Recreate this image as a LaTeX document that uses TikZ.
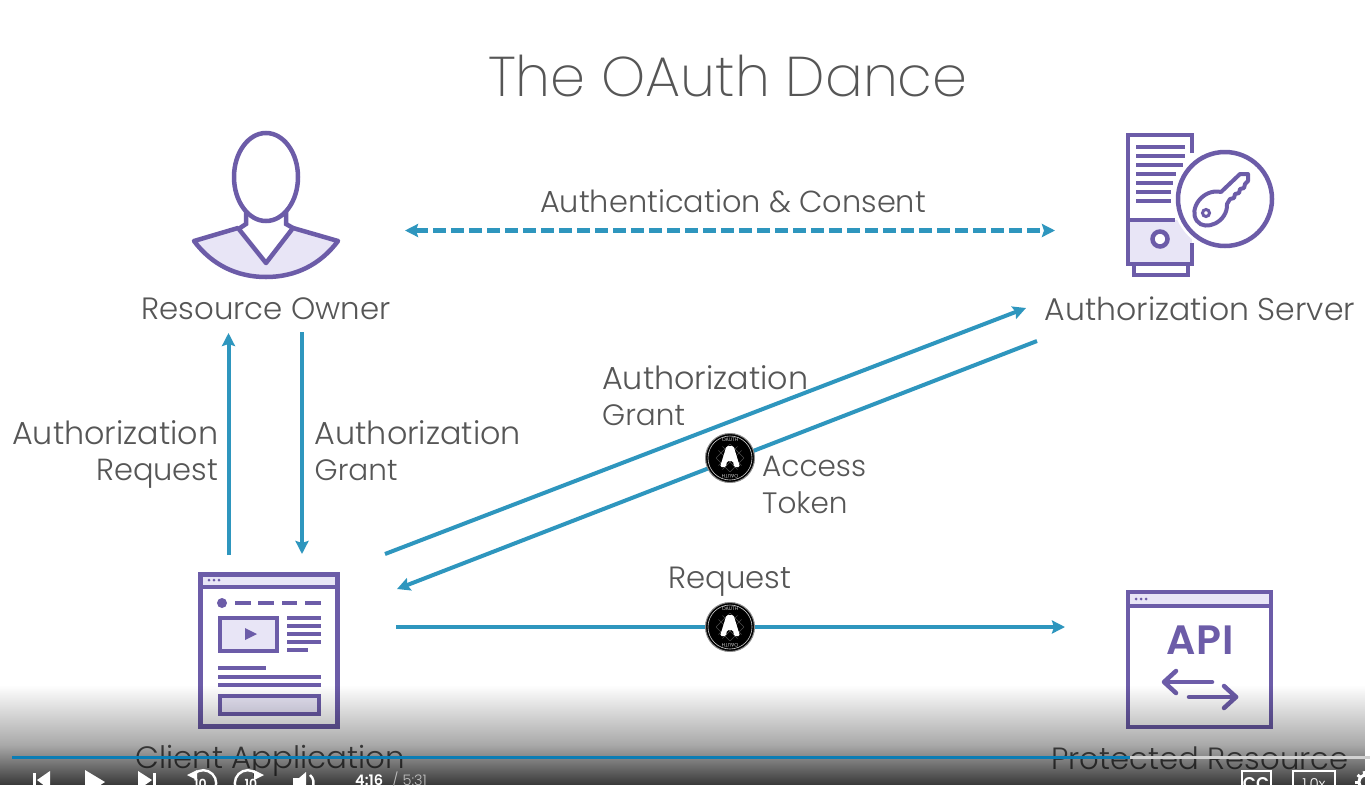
\documentclass[tikz,border=0pt]{standalone}
\usepackage{fontspec}
\setmainfont{Poppins}[UprightFont=* Light,BoldFont=* SemiBold]
\newfontfamily\titlefont{Poppins ExtraLight}
\usetikzlibrary{arrows.meta,fadings,calc}
\definecolor{txt}{HTML}{565656}
\definecolor{pur}{HTML}{6C5CA8}
\definecolor{lil}{HTML}{E8E5F6}
\definecolor{flow}{HTML}{2E96BE}
\definecolor{bar}{HTML}{0B7DB5}
\tikzfading[name=playerfadeA,top color=transparent!100,bottom color=transparent!66]
\tikzfading[name=playerfadeB,top color=transparent!66,bottom color=transparent!22]
\newcommand{\sz}[1]{\fontsize{#1}{36.5}\selectfont}
\tikzset{
 lbl/.style={text=txt,inner sep=0pt,font=\sz{29.5}},
 flowline/.style={draw=flow,line width=4pt,-{Stealth[length=13pt,width=13pt,inset=2pt]}},
 icon/.style={draw=pur,line width=4.5pt,line join=miter},
 iconthin/.style={draw=pur,line width=4pt},
 apiarrow/.style={draw=pur,line width=4.5pt,line cap=round,line join=round},
 ui/.style={white,line width=2.4pt},
 badge/.style={circle,fill=black,draw=black!45,line width=1pt,minimum size=49pt,inner sep=0pt},
 badgetext/.style={text=white,inner sep=0pt,font=\fontsize{5}{6}\selectfont},
}
\newcommand{\badgeicon}[1]{%
 \node[badge] (#1) at (#1c) {};
 \draw[white!80!black,line width=0.6pt] (#1c) circle (22pt);
 \begin{scope}
  \clip (#1c) circle (14pt);
  \foreach \dd in {-14,-4,4,14} {
   \draw[black!70,line width=0.5pt] ($(#1c)+(\dd-20,-20)$) -- ($(#1c)+(\dd+20,20)$);
   \draw[black!70,line width=0.5pt] ($(#1c)+(\dd+20,-20)$) -- ($(#1c)+(\dd-20,20)$);
  }
 \end{scope}
 \fill[white,rounded corners=1.5pt] ($(#1c)+(-10,9)$) -- ($(#1c)+(-3.5,-12)$) -- ($(#1c)+(3.5,-12)$) -- ($(#1c)+(10,9)$) -- ($(#1c)+(4,9)$) -- ($(#1c)+(3,3)$) -- ($(#1c)+(-3,3)$) -- ($(#1c)+(-4,9)$) -- cycle;
 \node[badgetext] at ($(#1c)+(0,-18)$) {OAUTH};
 \node[badgetext,rotate=180] at ($(#1c)+(0,18)$) {OAUTH};
}
\begin{document}
\begin{tikzpicture}[x=1pt,y=-1pt]
\useasboundingbox (0,0) rectangle (1370,785);
\fill[white] (0,0) rectangle (1370,785);
\clip (0,0) rectangle (1370,785);

% title and labels
\node[lbl,font=\titlefont\fontsize{56}{60}\selectfont] (title) at (728,76) {The OAuth Dance};
\node[lbl,font=\sz{30.4}] (consent) at (733,201) {Authentication \& Consent};
\node[lbl,font=\sz{30.8}] (owner) at (266,309) {Resource Owner};
\node[lbl,font=\sz{31.5}] (server) at (1200,309) {Authorization Server};
\node[lbl,align=right,anchor=east] (lreq) at (218.5,454.5) {{\sz{31.8}Authorization}\\{\sz{30.5}Request}};
\node[lbl,align=left,anchor=west] (lgrant) at (314.5,450.5) {{\sz{31.8}Authorization}\\Grant};
\node[lbl,align=left,anchor=west] (lgrant2) at (602,395.5) {{\sz{31.8}Authorization}\\Grant};
\node[lbl,align=left,anchor=west] (ltoken) at (762,485) {Access\\Token};
\node[lbl,font=\sz{30.7}] (lrequest) at (730,582) {Request};
\node[lbl,font=\sz{30.9}] (client) at (270,761) {Client Application};
\node[lbl,font=\sz{30.7}] (resource) at (1200,758) {Protected Resource};

% connector ends
\coordinate (dl) at (405,230.5); \coordinate (dr) at (1055,230.5);
\coordinate (ua) at (228.5,555); \coordinate (ub) at (228.5,333);
\coordinate (da) at (302,332); \coordinate (db) at (302,554);
\coordinate (ga) at (385,554); \coordinate (gb) at (1026,308);
\coordinate (ta) at (1037,341); \coordinate (tb) at (397,589);
\coordinate (ra) at (396,627); \coordinate (rb) at (1065,627);
\coordinate (b1c) at (730,458); \coordinate (b2c) at (730,627);

\draw[draw=flow,line width=4.5pt,dash pattern=on 13pt off 5pt,{Stealth[length=13pt,width=13pt,inset=2pt]}-{Stealth[length=13pt,width=13pt,inset=2pt]}] (dl) -- (dr);
\draw[flowline] (ua) -- (ub);
\draw[flowline] (da) -- (db);
\draw[flowline] (ga) -- (gb);
\draw[flowline] (ta) -- (tb);
\draw[flowline] (ra) -- (rb);
\badgeicon{b1}
\badgeicon{b2}

% resource owner
\draw[icon,fill=lil,line join=round] (194,241) -- (238,228) -- (266,263) -- (293,228) -- (338,241) .. controls (320,265) and (295,277) .. (266,277) .. controls (237,277) and (212,265) .. (194,241) -- cycle;
\draw[icon,fill=white] (246,212) -- (246,224) -- (240,228);
\draw[icon,fill=white] (286,212) -- (286,224) -- (293,228);
\draw[icon,fill=white] (266,177) ellipse (32pt and 44pt);

% authorization server
\fill[lil] (1128,220) rectangle (1192,264);
\draw[icon] (1192,153) -- (1192,135) -- (1128,135) -- (1128,264) -- (1192,264) -- (1192,243);
\draw[icon] (1128,220) -- (1175,220);
\foreach \yy/\xx in {147/1185,156/1185,165/1183,174/1176,183/1173,192/1171,201/1171}
  \draw[iconthin] (1136,\yy) -- (\xx,\yy);
\draw[iconthin] (1134,264) rectangle (1188,275);
\draw[icon,fill=white] (1160,239) circle (7.5pt);
\fill[white] (1225,199) circle (52pt);
\draw[icon,fill=white] (1225,199) circle (47pt);
\draw[icon,line width=4pt,fill=white,line join=round] (1221,192) -- (1240,174) -- (1248,174) -- (1248,181) -- (1245,184) -- (1244,188) -- (1240,189) -- (1239,193) -- (1235,194) -- (1234,198) -- (1230,199) -- (1227,204)
  .. controls (1228,222) and (1205,232) .. (1197,221) .. controls (1188,209) and (1203,188) .. (1221,192) -- cycle;
\draw[draw=pur,line width=3pt,fill=white] (1206,213) circle (3.5pt);

% client application
\draw[icon] (200.5,574.5) rectangle (337.5,726.5);
\draw[icon,fill=lil] (200.5,574.5) rectangle (337.5,587);
\foreach \xx in {209,214,219} \fill[pur] (\xx,580) circle (1.5pt);
\fill[pur] (222,603) circle (5pt);
\foreach \aa/\bb in {235/251,258/274,282/297,305/321} \draw[iconthin] (\aa,603) -- (\bb,603);
\draw[iconthin,fill=lil] (220,618) rectangle (277,651);
\fill[pur] (245,628) -- (257,634) -- (245,640) -- cycle;
\foreach \yy/\xx in {618/321,626/321,634/321,642/321,650/308} \draw[iconthin] (287,\yy) -- (\xx,\yy);
\draw[iconthin] (218,668) -- (266,668);
\draw[iconthin] (218,677) -- (321,677);
\draw[iconthin] (218,685) -- (321,685);
\draw[iconthin,fill=lil] (220,696) rectangle (319,714);

% protected resource
\draw[icon] (1128,592) rectangle (1271,727);
\draw[icon,fill=lil] (1128,592) rectangle (1271,606);
\foreach \xx in {1136,1141,1146} \fill[pur] (\xx,599) circle (1.5pt);
\node[text=pur,inner sep=0pt,font=\bfseries\fontsize{41}{44}\selectfont] (api) at (1200,640) {A\kern1pt P\kern1pt I};
\draw[apiarrow] (1212,682) -- (1165,682);
\draw[apiarrow] (1176,671) -- (1164,682) -- (1176,693);
\draw[apiarrow] (1189,697) -- (1236,697);
\draw[apiarrow] (1224,686) -- (1236,697) -- (1224,708);

% player overlay
\fill[black,path fading=playerfadeA] (0,685) rectangle (1370,745);
\fill[black,path fading=playerfadeB] (0,745) rectangle (1370,785);
\fill[bar] (12,755.5) rectangle (1130,759);
\fill[black!18] (1130,755.5) rectangle (1370,759);

% player controls
\fill[white] (33,773) rectangle (36,790);
\fill[white] (50,771) -- (50,790) -- (37,780) -- cycle;
\fill[white] (85,770) -- (85,795) -- (105,782) -- cycle;
\fill[white] (138,771) -- (138,790) -- (152,780) -- cycle;
\fill[white] (153,773) rectangle (156,790);
\draw[ui] (194,774) arc[start angle=135,end angle=-100,radius=13pt];
\fill[white] (187,775) -- (197,770) -- (197,780) -- cycle;
\draw[ui] (257,774) arc[start angle=45,end angle=280,radius=13pt];
\fill[white] (264,775) -- (254,770) -- (254,780) -- cycle;
\node[text=white,inner sep=0pt,font=\bfseries\fontsize{12.5}{13}\selectfont] (rw) at (200.5,784) {10};
\node[text=white,inner sep=0pt,font=\bfseries\fontsize{12.5}{13}\selectfont] (ff) at (251,784) {10};
\fill[white] (293,778) -- (299,778) -- (306,772) -- (306,790) -- (293,790) -- cycle;
\draw[ui] (310,775) arc[start angle=50,end angle=-30,radius=10pt];
\node[anchor=west,inner sep=0pt,text=white,font=\bfseries\fontsize{14.5}{16}\selectfont] (tcur) at (355,780) {4:16};
\node[anchor=west,inner sep=0pt,text=white!75!black,font=\fontsize{14.5}{16}\selectfont] (ttot) at (392,780) {/ 5:31};
\draw[ui] (1242,771) rectangle (1271,792);
\node[text=white,inner sep=0pt,font=\bfseries\fontsize{17}{18}\selectfont] (cc) at (1256,784) {CC};
\draw[ui] (1293,771) rectangle (1335,792);
\node[text=white,inner sep=0pt,font=\fontsize{15}{16}\selectfont] (spd) at (1314,784) {1.0x};
\draw[ui,line width=3pt] (1366,782) circle (7pt);
\foreach \aa in {100,140,180,220,260}
  \draw[ui,line width=3pt] ($(1366,782)+(\aa:7pt)$) -- ($(1366,782)+(\aa:11pt)$);
\end{tikzpicture}
\end{document}
